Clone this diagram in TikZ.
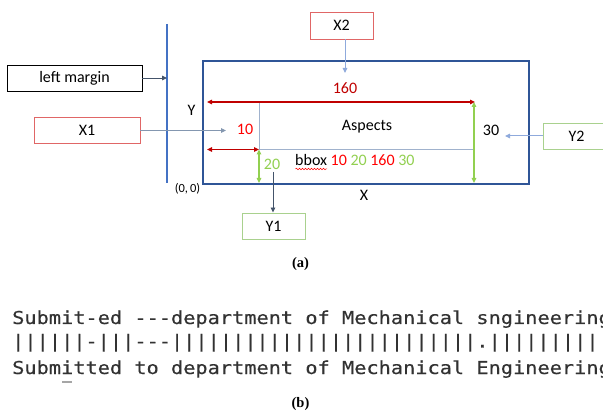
\documentclass[tikz,border=0pt]{standalone}
\usepackage{fontspec}
\newfontfamily\calfont{Carlito}
\newfontfamily\capfont{Liberation Serif}
\newfontfamily\codefont[FakeStretch=1.14,FakeBold=0.35]{DejaVu Sans Mono}
\usetikzlibrary{arrows.meta,decorations.pathmorphing}
\definecolor{mainblue}{RGB}{47,85,151}
\definecolor{lineblue}{RGB}{68,114,196}
\definecolor{darkred}{RGB}{192,0,0}
\definecolor{brightred}{RGB}{255,0,0}
\definecolor{lgreen}{RGB}{146,208,80}
\definecolor{boxgreen}{RGB}{169,209,142}
\definecolor{boxred}{RGB}{224,102,102}
\definecolor{slate}{RGB}{68,84,106}
\definecolor{greyblue}{RGB}{132,151,176}
\definecolor{paleblue}{RGB}{143,170,220}
\definecolor{innerline}{RGB}{160,178,205}
\definecolor{codegray}{RGB}{50,50,50}
\tikzset{
  lbl/.style={font=\calfont\fontsize{16}{19}\selectfont, inner sep=0pt},
  smalllbl/.style={font=\calfont\fontsize{12.5}{15}\selectfont, inner sep=0pt},
  labelbox/.style={draw, line width=0.9pt, minimum height=26pt, inner sep=0pt,
    font=\calfont\fontsize{16}{19}\selectfont},
  tip/.style={-{Triangle[length=5pt,width=4.5pt]}},
  dtip/.style={{Triangle[length=5pt,width=4.5pt]}-{Triangle[length=5pt,width=4.5pt]}},
  codeline/.style={font=\codefont\fontsize{17.8}{20}\selectfont, text=codegray,
    anchor=base west, inner sep=0pt},
  caption/.style={font=\capfont\bfseries\fontsize{14.5}{16}\selectfont, inner sep=0pt}
}
\begin{document}
\begin{tikzpicture}[x=1pt,y=-1pt]
\useasboundingbox (0,0) rectangle (603,414);
\clip (0,0) rectangle (603,414);
\fill[white] (0,0) rectangle (603,414);

% left margin line
\coordinate (vt) at (167,24);
\coordinate (vb) at (167,183);
\draw[lineblue, line width=1.4pt] (vt) -- (vb);

% main box
\node[draw=mainblue, line width=2.2pt, minimum width=326pt, minimum height=123pt,
      inner sep=0pt] (main) at (366,122.5) {};

% label boxes
\node[labelbox, draw=black, minimum width=135pt] (lm) at (74.5,78) {left margin};
\node[labelbox, draw=boxred, minimum width=106pt] (x1) at (87,130.5) {X1};
\node[labelbox, draw=boxred, minimum width=63pt, minimum height=27pt] (x2) at (341.5,25.5) {X2};
\node[labelbox, draw=boxgreen, minimum width=63pt] (y1) at (273.5,226) {Y1};
\node[labelbox, draw=boxgreen, minimum width=67pt] (y2) at (576.5,136) {Y2};

% connectors from label boxes
\draw[tip, slate, line width=0.9pt] (lm.east) -- (lm.east -| vt);
\coordinate (x1t) at (226,130.5);
\draw[tip, greyblue, line width=0.9pt] (x1.east) -- (x1t);
\coordinate (x2t) at (345,73);
\draw[tip, paleblue, line width=1pt] (x2t |- x2.south) -- (x2t);
\coordinate (y2t) at (505,136);
\draw[tip, paleblue, line width=1pt] (y2.west) -- (y2t);
\coordinate (y1s) at (273,172);
\draw[tip, slate, line width=0.9pt] (y1s) -- (y1s |- y1.north);

% inner construction lines
\coordinate (a) at (259,102);
\coordinate (b) at (259,149.5);
\coordinate (c) at (473,149.5);
\draw[innerline, line width=1pt] (a) -- (b) -- (c);

% dimension arrows
\coordinate (tl) at (207,102);
\coordinate (tr) at (475,102);
\draw[dtip, darkred, line width=1.1pt] (tl) -- (tr);
\coordinate (ml) at (207,149.5);
\draw[dtip, darkred, line width=1.1pt] (ml) -- (b);
\coordinate (gb) at (259,183);
\draw[dtip, lgreen, line width=1.1pt] (b) -- (gb);
\coordinate (rt) at (474,102);
\coordinate (rb) at (474,183);
\draw[dtip, lgreen, line width=1.1pt] (rt) -- (rb);

% labels
\node[lbl, text=darkred] (l160) at (345,88) {160};
\node[lbl, text=brightred] (l10) at (245,129.5) {10};
\node[lbl, text=lgreen] (l20) at (272,164) {20};
\node[lbl] (l30) at (491,130) {30};
\node[lbl] (ly) at (191.5,110.5) {Y};
\node[lbl] (lx) at (364,195) {X};
\node[smalllbl] (l00) at (187.5,189) {(0,\,0)};
\node[lbl] (asp) at (367,127) {Aspects};
\node[lbl, anchor=west] (bb) at (295,160) {bbox \textcolor{brightred}{10} \textcolor{lgreen}{20} \textcolor{brightred}{160} \textcolor{lgreen}{30}};
\draw[brightred, line width=0.5pt, decorate,
      decoration={snake, amplitude=0.8pt, segment length=3pt}] (295.5,169) -- (327,169);

% captions
\node[caption] (capa) at (300.5,264.5) {(a)};
\node[caption] (capb) at (300.5,404.5) {(b)};

% part (b) text
\node[codeline] (c1) at (12,324) {Submit-ed ---department of Mechanical sngineering};
\node[codeline] (c2) at (12,347.5) {||||||-|||---|||||||||||||||||||||||||.||||||||||};
\node[codeline] (c3) at (12,374) {Submitted to department of Mechanical Engineering};
\fill[gray!70] (62,380.5) rectangle (72,383);
\end{tikzpicture}
\end{document}
